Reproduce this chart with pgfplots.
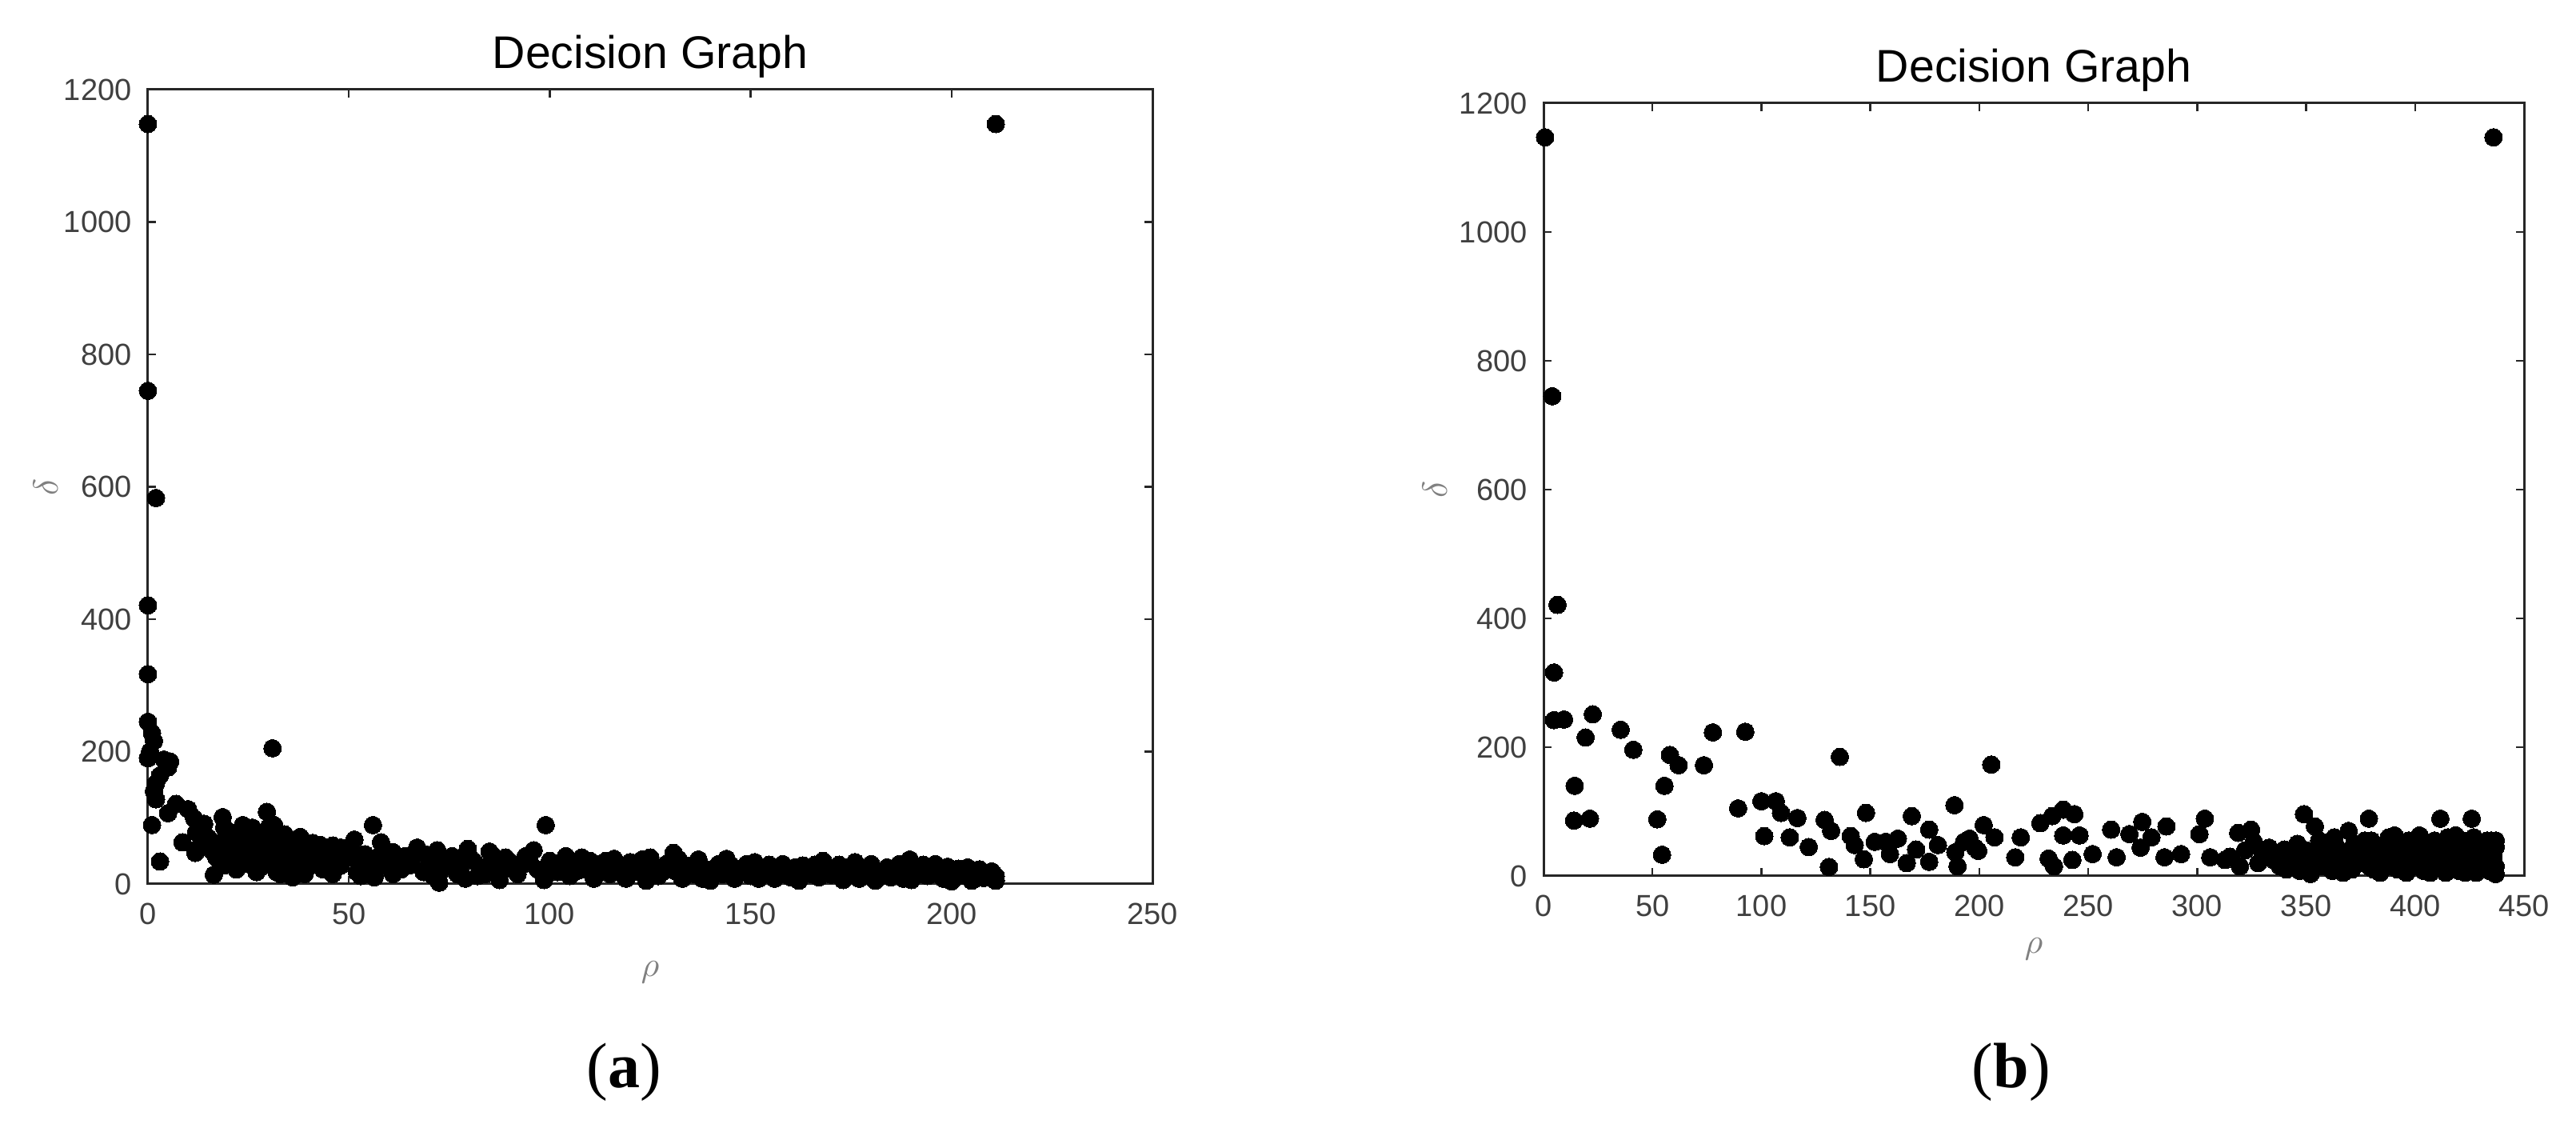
\documentclass[border=0pt]{standalone}
\usepackage{pgfplots}
\pgfplotsset{compat=1.18}
\usepackage{fontspec}
\setmainfont{Liberation Sans}
\newfontfamily\serif{Liberation Serif}

\definecolor{axcol}{RGB}{38,38,38}
\definecolor{tickcol}{RGB}{64,64,64}

\pgfplotsset{
  dg/.style={
    scale only axis, axis line style={axcol, line width=0.75pt},
    tick style={axcol, line width=0.6pt}, tick align=inside, tick pos=both,
    major tick length=2.5pt,
    ymin=0, ymax=1200, ytick={0,200,...,1200},
    /pgf/number format/assume math mode=true,
    /pgf/number format/1000 sep={},
    ticklabel style={font=\fontsize{9.5}{11}\selectfont, text=tickcol},
    xticklabel style={yshift=-2.4pt},
    yticklabel style={xshift=-1.6pt},
    % the default title style shifts up by 6pt, undo it
    title style={font=\fontsize{14.3}{16}\selectfont, anchor=base, yshift=-6pt, at={(axis description cs:0.5,1.027)}},
    xlabel style={font=\fontsize{11}{12}\selectfont, text=gray, anchor=center},
    ylabel style={font=\fontsize{11}{12}\selectfont, text=gray, anchor=center},
    clip=false,
  },
  dots/.style={only marks, mark=*, mark size=2.75pt, mark options={fill=black, draw=black, line width=0pt}},
}

\begin{document}
\begin{tikzpicture}
\useasboundingbox (0,0) rectangle (805.25pt,352.5pt);

% (a)
\begin{axis}[dg, at={(46.25pt,76.25pt)}, anchor=south west, width=314pt, height=248.25pt,
  xmin=0, xmax=250, xtick={0,50,...,250},
  title={Decision Graph}, xlabel={$\rho$}, ylabel={$\delta$},
  xlabel style={at={(axis description cs:0.5,-0.111)}},
  ylabel style={at={(axis description cs:-0.102,0.5)}}]
\addplot[dots] table {
x y
0 1148
0 745
2 583
0 421
0 317
0 245
1 228
1.5 216
0.5 200
0 190
4 188
5 176
5.5 185
3 164
2 152
1.5 140
2 128
1 89
3 34
31 205
56 89
99 89
211 1148
5 107
7 121
10 113
11.5 99
14 91
12 78
8.6 63
11.8 47
13 58
15 70
16.4 14
18.6 101
17 40
18 62
19 28
20 80
20 50
21 35
22 22
22 66
23.6 89
24 45
25 75
25 30
26 58
27 18
27 40
28 68
29.6 109
29 52
30 85
30 30
31.4 89
32 18
32 62
33 45
34 75
34 28
35 55
36 10
36 40
37.9 71
38 25
39 50
40 26
41 62
42 38
42.9 59
43.6 22
44 48
45 35
46 58
47 47
48 28
49 40
50 55
51.4 67
52 18
53 32
54 45
55 28
56.4 10
57 40
58 63
59 30
60.7 26
61 48
62 35
64 42
65 28
67 55
68.6 18
70 30
72 51
72.5 2
73 20
74 35
75.7 42
77 15
78 28
79.6 53
81 35
82 12
83 25
85 49
86 30
87.5 6
88 20
89 40
90 34
92 15
93 28
94 42
96 51
97 22
98.6 6
100 35
102 18
103 30
105 12
106 30
108 40
109 22
111 8
112 30
114 35
115 15
117 25
119 8
120 33
122 18
123 37
124 5
126 25
127 12
129 30
130.8 47
131 20
133 8
134 28
136 15
137 37
139 22
140 5
142 30
143 15
145 29
146 8
148 22
150 12
151 33
153 20
154.6 29
156 8
157 22
159 14
161 25
162 5
164 18
166 29
167 10
169 22
170 14
172 29
173 6
175 18
176 33
178 12
179 24
181 5
182 18
184 25
185 10
187 30
188 16
189.6 37
190 6
191 24
193 29
194 12
195 20
197.7 23
198 8
199 14
200 4
201.7 23
202 12
203 18
205 5
206 15
207 22
208 9
209 17
210 19
211 5
211 12
16 50
19 85
21 60
23 30
26 85
28 25
31 45
33 15
35 68
37 35
39 15
41 45
44 30
46 15
48 55
51 40
53 12
57 22
61 15
63 22
66 40
69 45
71 12
76 25
79 8
80 40
84 15
86 42
91 22
95 35
99 15
101 28
104 42
107 20
110 35
113 20
116 38
118 15
121 28
125 40
128 18
132 38
135 25
138 8
141 18
144 38
147 15
149 30
152 8
155 18
158 30
160 10
163 28
165 15
168 35
171 20
174 25
177 8
180 30
183 12
186 20
188 8
192 15
196 30
199 26
204 25
206 8
};
\node[font=\serif\fontsize{20}{22}\selectfont] at (axis description cs:0.474,-0.237) {(\textbf{a})};
\end{axis}

% (b)
\begin{axis}[dg, at={(482.5pt,78.75pt)}, anchor=south west, width=306.5pt, height=241.5pt,
  xmin=0, xmax=450, xtick={0,50,...,450},
  title={Decision Graph}, xlabel={$\rho$}, ylabel={$\delta$},
  xlabel style={at={(axis description cs:0.5,-0.095)}},
  ylabel style={at={(axis description cs:-0.111,0.5)}}]
\addplot[dots] table {
x y
0.7 1147
4 745
6.4 421
4.8 316
4.8 242
9.4 243
22.6 251
19.3 215
14.3 140
14 86
21.3 89
35.4 227
41.2 196
58 188
62 172
55.5 140
52.2 88
54.4 33
73.6 172
77.7 223
92.6 224
89.3 105
100 116
106.6 116
109 98
116.5 90
101.3 62
113 60
121.7 45
129 87
132 70
131 14
136 185
141 62
148 98
142.8 48
147 26
152 53
157 53
159 34
162.6 58
166.7 20
169 93
171 41
177 72
177 22
181 48
188.6 110
189 37
190 15
193 53
195.5 58
199.5 39
202 79
205.5 173
207 60
198 44
216.5 29
219 60
228 82
233.5 93
238.5 103
243.6 96
238.5 63
246 63
231.8 27
234.3 15
242.7 25
252 34
260.5 72
263 29
268.9 65
274.8 84
274 44
279 60
285.9 77
285 29
292.6 34
301 65
303.5 89
306 29
312.8 25
318.8 67
324.7 72
319.6 15
326 53
333 44
340 41
341 10
349 96
354 77
352 3
315 30
322 40
328 20
330 35
335 25
338 15
344 30
346 50
348 20
350 40
356 55
357 15
360 30
362 8
364 45
366 20
368 35
369.5 70
371 10
372 50
374 25
376 40
378.8 89
379 15
380 55
382 30
384 5
385 45
387 20
388 60
390.6 63
391 35
392 10
394 50
395 25
396 5
398 40
399 15
400 55
402 63
402 28
404 8
405 45
406 20
408 35
409 55
410 12
411.6 89
412 40
413 25
414 5
415 60
416 30
417 15
418.6 63
419 45
420 8
421 25
422 55
423 35
424 12
425 45
426 89
426 20
427 60
428 5
429 30
430 50
431 15
432 40
433 25
434 8
435 55
435 20
436 35
436 12
437 45
437 3
343 20
347 8
353 30
358 45
361 22
363 60
367 5
370 40
373 18
377 55
381 10
383 40
386 30
389 15
393 40
397 55
401 20
403 45
407 5
410 30
413 50
417 40
420 55
423 5
425 30
428 40
430 20
433 55
434 45
436 25
437 15
437 55
436 1147
};
\node[font=\serif\fontsize{20}{22}\selectfont] at (axis description cs:0.477,-0.254) {(\textbf{b})};
\end{axis}
\end{tikzpicture}
\end{document}
